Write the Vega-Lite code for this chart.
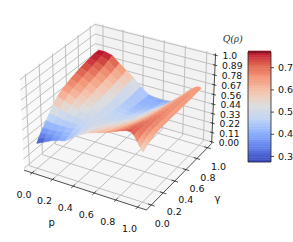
{"$schema":"https://vega.github.io/schema/vega-lite/v6.json","width":293,"height":242,"padding":0,"autosize":{"type":"none"},"background":"white","config":{"view":{"stroke":null}},
"datasets":{"frame":[
{"kind":"left","p":[-0.08,-0.08,-0.08,-0.08],"g":[-0.08,1.08,1.08,-0.08],"z":[-0.02,-0.02,1.02,1.02],"k":[0,1,2,3]},
{"kind":"back","p":[-0.08,1.08,1.08,-0.08],"g":[1.08,1.08,1.08,1.08],"z":[-0.02,-0.02,1.02,1.02],"k":[0,1,2,3]},
{"kind":"floor","p":[-0.08,1.08,1.08,-0.08],"g":[-0.08,-0.08,1.08,1.08],"z":[-0.02,-0.02,-0.02,-0.02],"k":[0,1,2,3]},
{"kind":"grid","id":"p0","p":[0,0,0],"g":[-0.08,1.08,1.08],"z":[-0.02,-0.02,1.02],"k":[0,1,2]},
{"kind":"grid","id":"p2","p":[0.2,0.2,0.2],"g":[-0.08,1.08,1.08],"z":[-0.02,-0.02,1.02],"k":[0,1,2]},
{"kind":"grid","id":"p4","p":[0.4,0.4,0.4],"g":[-0.08,1.08,1.08],"z":[-0.02,-0.02,1.02],"k":[0,1,2]},
{"kind":"grid","id":"p6","p":[0.6,0.6,0.6],"g":[-0.08,1.08,1.08],"z":[-0.02,-0.02,1.02],"k":[0,1,2]},
{"kind":"grid","id":"p8","p":[0.8,0.8,0.8],"g":[-0.08,1.08,1.08],"z":[-0.02,-0.02,1.02],"k":[0,1,2]},
{"kind":"grid","id":"p10","p":[1,1,1],"g":[-0.08,1.08,1.08],"z":[-0.02,-0.02,1.02],"k":[0,1,2]},
{"kind":"grid","id":"g0","p":[1.08,-0.08,-0.08],"g":[0,0,0],"z":[-0.02,-0.02,1.02],"k":[0,1,2]},
{"kind":"grid","id":"g2","p":[1.08,-0.08,-0.08],"g":[0.2,0.2,0.2],"z":[-0.02,-0.02,1.02],"k":[0,1,2]},
{"kind":"grid","id":"g4","p":[1.08,-0.08,-0.08],"g":[0.4,0.4,0.4],"z":[-0.02,-0.02,1.02],"k":[0,1,2]},
{"kind":"grid","id":"g6","p":[1.08,-0.08,-0.08],"g":[0.6,0.6,0.6],"z":[-0.02,-0.02,1.02],"k":[0,1,2]},
{"kind":"grid","id":"g8","p":[1.08,-0.08,-0.08],"g":[0.8,0.8,0.8],"z":[-0.02,-0.02,1.02],"k":[0,1,2]},
{"kind":"grid","id":"g10","p":[1.08,-0.08,-0.08],"g":[1,1,1],"z":[-0.02,-0.02,1.02],"k":[0,1,2]},
{"kind":"grid","id":"z0","p":[-0.08,-0.08,1.08],"g":[-0.08,1.08,1.08],"z":[0,0,0],"k":[0,1,2]},
{"kind":"grid","id":"z1","p":[-0.08,-0.08,1.08],"g":[-0.08,1.08,1.08],"z":[0.111,0.111,0.111],"k":[0,1,2]},
{"kind":"grid","id":"z2","p":[-0.08,-0.08,1.08],"g":[-0.08,1.08,1.08],"z":[0.222,0.222,0.222],"k":[0,1,2]},
{"kind":"grid","id":"z3","p":[-0.08,-0.08,1.08],"g":[-0.08,1.08,1.08],"z":[0.333,0.333,0.333],"k":[0,1,2]},
{"kind":"grid","id":"z4","p":[-0.08,-0.08,1.08],"g":[-0.08,1.08,1.08],"z":[0.444,0.444,0.444],"k":[0,1,2]},
{"kind":"grid","id":"z5","p":[-0.08,-0.08,1.08],"g":[-0.08,1.08,1.08],"z":[0.556,0.556,0.556],"k":[0,1,2]},
{"kind":"grid","id":"z6","p":[-0.08,-0.08,1.08],"g":[-0.08,1.08,1.08],"z":[0.667,0.667,0.667],"k":[0,1,2]},
{"kind":"grid","id":"z7","p":[-0.08,-0.08,1.08],"g":[-0.08,1.08,1.08],"z":[0.778,0.778,0.778],"k":[0,1,2]},
{"kind":"grid","id":"z8","p":[-0.08,-0.08,1.08],"g":[-0.08,1.08,1.08],"z":[0.889,0.889,0.889],"k":[0,1,2]},
{"kind":"grid","id":"z9","p":[-0.08,-0.08,1.08],"g":[-0.08,1.08,1.08],"z":[1,1,1],"k":[0,1,2]},
{"kind":"ink","id":"ap","p":[-0.08,1.08],"g":[-0.08,-0.08],"z":[-0.02,-0.02],"k":[0,1]},
{"kind":"ink","id":"ag","p":[1.08,1.08],"g":[-0.08,1.08],"z":[-0.02,-0.02],"k":[0,1]},
{"kind":"ink","id":"az","p":[1.08,1.08],"g":[1.08,1.08],"z":[-0.02,1.02],"k":[0,1]},
{"kind":"ink","id":"tp0","p":[0,0],"g":[-0.11,-0.05],"z":[-0.02,-0.02],"k":[0,1]},
{"kind":"ink","id":"tp2","p":[0.2,0.2],"g":[-0.11,-0.05],"z":[-0.02,-0.02],"k":[0,1]},
{"kind":"ink","id":"tp4","p":[0.4,0.4],"g":[-0.11,-0.05],"z":[-0.02,-0.02],"k":[0,1]},
{"kind":"ink","id":"tp6","p":[0.6,0.6],"g":[-0.11,-0.05],"z":[-0.02,-0.02],"k":[0,1]},
{"kind":"ink","id":"tp8","p":[0.8,0.8],"g":[-0.11,-0.05],"z":[-0.02,-0.02],"k":[0,1]},
{"kind":"ink","id":"tp10","p":[1,1],"g":[-0.11,-0.05],"z":[-0.02,-0.02],"k":[0,1]},
{"kind":"ink","id":"tg0","p":[1.05,1.11],"g":[0,0],"z":[-0.02,-0.02],"k":[0,1]},
{"kind":"ink","id":"tg2","p":[1.05,1.11],"g":[0.2,0.2],"z":[-0.02,-0.02],"k":[0,1]},
{"kind":"ink","id":"tg4","p":[1.05,1.11],"g":[0.4,0.4],"z":[-0.02,-0.02],"k":[0,1]},
{"kind":"ink","id":"tg6","p":[1.05,1.11],"g":[0.6,0.6],"z":[-0.02,-0.02],"k":[0,1]},
{"kind":"ink","id":"tg8","p":[1.05,1.11],"g":[0.8,0.8],"z":[-0.02,-0.02],"k":[0,1]},
{"kind":"ink","id":"tg10","p":[1.05,1.11],"g":[1,1],"z":[-0.02,-0.02],"k":[0,1]},
{"kind":"ink","id":"tz0","p":[1.06,1.1],"g":[1.08,1.08],"z":[0,0],"k":[0,1]},
{"kind":"ink","id":"tz1","p":[1.06,1.1],"g":[1.08,1.08],"z":[0.111,0.111],"k":[0,1]},
{"kind":"ink","id":"tz2","p":[1.06,1.1],"g":[1.08,1.08],"z":[0.222,0.222],"k":[0,1]},
{"kind":"ink","id":"tz3","p":[1.06,1.1],"g":[1.08,1.08],"z":[0.333,0.333],"k":[0,1]},
{"kind":"ink","id":"tz4","p":[1.06,1.1],"g":[1.08,1.08],"z":[0.444,0.444],"k":[0,1]},
{"kind":"ink","id":"tz5","p":[1.06,1.1],"g":[1.08,1.08],"z":[0.556,0.556],"k":[0,1]},
{"kind":"ink","id":"tz6","p":[1.06,1.1],"g":[1.08,1.08],"z":[0.667,0.667],"k":[0,1]},
{"kind":"ink","id":"tz7","p":[1.06,1.1],"g":[1.08,1.08],"z":[0.778,0.778],"k":[0,1]},
{"kind":"ink","id":"tz8","p":[1.06,1.1],"g":[1.08,1.08],"z":[0.889,0.889],"k":[0,1]},
{"kind":"ink","id":"tz9","p":[1.06,1.1],"g":[1.08,1.08],"z":[1,1],"k":[0,1]},
{"kind":"pl","text":"0.0","p":[0],"g":[-0.08],"z":[-0.02],"k":[0]},
{"kind":"pl","text":"0.2","p":[0.2],"g":[-0.08],"z":[-0.02],"k":[0]},
{"kind":"pl","text":"0.4","p":[0.4],"g":[-0.08],"z":[-0.02],"k":[0]},
{"kind":"pl","text":"0.6","p":[0.6],"g":[-0.08],"z":[-0.02],"k":[0]},
{"kind":"pl","text":"0.8","p":[0.8],"g":[-0.08],"z":[-0.02],"k":[0]},
{"kind":"pl","text":"1.0","p":[1],"g":[-0.08],"z":[-0.02],"k":[0]},
{"kind":"gl","text":"0.0","p":[1.08],"g":[0],"z":[-0.02],"k":[0]},
{"kind":"gl","text":"0.2","p":[1.08],"g":[0.2],"z":[-0.02],"k":[0]},
{"kind":"gl","text":"0.4","p":[1.08],"g":[0.4],"z":[-0.02],"k":[0]},
{"kind":"gl","text":"0.6","p":[1.08],"g":[0.6],"z":[-0.02],"k":[0]},
{"kind":"gl","text":"0.8","p":[1.08],"g":[0.8],"z":[-0.02],"k":[0]},
{"kind":"gl","text":"1.0","p":[1.08],"g":[1],"z":[-0.02],"k":[0]},
{"kind":"zl","text":"0.00","p":[1.08],"g":[1.08],"z":[0],"k":[0]},
{"kind":"zl","text":"0.11","p":[1.08],"g":[1.08],"z":[0.111],"k":[0]},
{"kind":"zl","text":"0.22","p":[1.08],"g":[1.08],"z":[0.222],"k":[0]},
{"kind":"zl","text":"0.33","p":[1.08],"g":[1.08],"z":[0.333],"k":[0]},
{"kind":"zl","text":"0.44","p":[1.08],"g":[1.08],"z":[0.444],"k":[0]},
{"kind":"zl","text":"0.56","p":[1.08],"g":[1.08],"z":[0.556],"k":[0]},
{"kind":"zl","text":"0.67","p":[1.08],"g":[1.08],"z":[0.667],"k":[0]},
{"kind":"zl","text":"0.78","p":[1.08],"g":[1.08],"z":[0.778],"k":[0]},
{"kind":"zl","text":"0.89","p":[1.08],"g":[1.08],"z":[0.889],"k":[0]},
{"kind":"zl","text":"1.0","p":[1.08],"g":[1.08],"z":[1],"k":[0]},
{"kind":"pt","text":"p","p":[0.5],"g":[-0.08],"z":[-0.02],"k":[0]},
{"kind":"gt","text":"γ","p":[1.08],"g":[0.5],"z":[-0.02],"k":[0]},
{"kind":"qt","text":"Q(ρ)","p":[1.08],"g":[1.08],"z":[1.02],"k":[0]}
],
"surface":[
{"g":1,"p":0,"q":0.77},{"g":1,"p":0.07,"q":0.77},{"g":1,"p":0.14,"q":0.75},{"g":1,"p":0.21,"q":0.68},{"g":1,"p":0.28,"q":0.62},{"g":1,"p":0.35,"q":0.56},{"g":1,"p":0.42,"q":0.48},{"g":1,"p":0.5,"q":0.41},{"g":1,"p":0.58,"q":0.39},{"g":1,"p":0.66,"q":0.39},{"g":1,"p":0.74,"q":0.41},{"g":1,"p":0.8,"q":0.47},{"g":1,"p":0.85,"q":0.54},{"g":1,"p":0.89,"q":0.59},{"g":1,"p":0.92,"q":0.62},{"g":1,"p":0.95,"q":0.645},{"g":1,"p":0.975,"q":0.655},{"g":1,"p":1,"q":0.65},
{"g":0.93,"p":0,"q":0.765},{"g":0.93,"p":0.07,"q":0.755},{"g":0.93,"p":0.14,"q":0.725},{"g":0.93,"p":0.21,"q":0.66},{"g":0.93,"p":0.28,"q":0.6},{"g":0.93,"p":0.35,"q":0.545},{"g":0.93,"p":0.42,"q":0.47},{"g":0.93,"p":0.5,"q":0.41},{"g":0.93,"p":0.58,"q":0.395},{"g":0.93,"p":0.66,"q":0.4},{"g":0.93,"p":0.74,"q":0.43},{"g":0.93,"p":0.8,"q":0.49},{"g":0.93,"p":0.85,"q":0.555},{"g":0.93,"p":0.89,"q":0.6},{"g":0.93,"p":0.92,"q":0.63},{"g":0.93,"p":0.95,"q":0.65},{"g":0.93,"p":0.975,"q":0.655},{"g":0.93,"p":1,"q":0.645},
{"g":0.85,"p":0,"q":0.755},{"g":0.85,"p":0.07,"q":0.74},{"g":0.85,"p":0.14,"q":0.7},{"g":0.85,"p":0.21,"q":0.64},{"g":0.85,"p":0.28,"q":0.585},{"g":0.85,"p":0.35,"q":0.53},{"g":0.85,"p":0.42,"q":0.465},{"g":0.85,"p":0.5,"q":0.415},{"g":0.85,"p":0.58,"q":0.4},{"g":0.85,"p":0.66,"q":0.415},{"g":0.85,"p":0.74,"q":0.45},{"g":0.85,"p":0.8,"q":0.51},{"g":0.85,"p":0.85,"q":0.57},{"g":0.85,"p":0.89,"q":0.61},{"g":0.85,"p":0.92,"q":0.64},{"g":0.85,"p":0.95,"q":0.655},{"g":0.85,"p":0.975,"q":0.655},{"g":0.85,"p":1,"q":0.64},
{"g":0.78,"p":0,"q":0.745},{"g":0.78,"p":0.07,"q":0.72},{"g":0.78,"p":0.14,"q":0.68},{"g":0.78,"p":0.21,"q":0.625},{"g":0.78,"p":0.28,"q":0.57},{"g":0.78,"p":0.35,"q":0.52},{"g":0.78,"p":0.42,"q":0.46},{"g":0.78,"p":0.5,"q":0.42},{"g":0.78,"p":0.58,"q":0.41},{"g":0.78,"p":0.66,"q":0.43},{"g":0.78,"p":0.74,"q":0.475},{"g":0.78,"p":0.8,"q":0.53},{"g":0.78,"p":0.85,"q":0.585},{"g":0.78,"p":0.89,"q":0.62},{"g":0.78,"p":0.92,"q":0.645},{"g":0.78,"p":0.95,"q":0.66},{"g":0.78,"p":0.975,"q":0.655},{"g":0.78,"p":1,"q":0.637},
{"g":0.7,"p":0,"q":0.73},{"g":0.7,"p":0.07,"q":0.7},{"g":0.7,"p":0.14,"q":0.66},{"g":0.7,"p":0.21,"q":0.61},{"g":0.7,"p":0.28,"q":0.56},{"g":0.7,"p":0.35,"q":0.51},{"g":0.7,"p":0.42,"q":0.46},{"g":0.7,"p":0.5,"q":0.43},{"g":0.7,"p":0.58,"q":0.425},{"g":0.7,"p":0.66,"q":0.45},{"g":0.7,"p":0.74,"q":0.5},{"g":0.7,"p":0.8,"q":0.55},{"g":0.7,"p":0.85,"q":0.6},{"g":0.7,"p":0.89,"q":0.63},{"g":0.7,"p":0.92,"q":0.65},{"g":0.7,"p":0.95,"q":0.66},{"g":0.7,"p":0.975,"q":0.655},{"g":0.7,"p":1,"q":0.635},
{"g":0.62,"p":0,"q":0.71},{"g":0.62,"p":0.07,"q":0.68},{"g":0.62,"p":0.14,"q":0.64},{"g":0.62,"p":0.21,"q":0.595},{"g":0.62,"p":0.28,"q":0.55},{"g":0.62,"p":0.35,"q":0.505},{"g":0.62,"p":0.42,"q":0.465},{"g":0.62,"p":0.5,"q":0.44},{"g":0.62,"p":0.58,"q":0.44},{"g":0.62,"p":0.66,"q":0.47},{"g":0.62,"p":0.74,"q":0.52},{"g":0.62,"p":0.8,"q":0.565},{"g":0.62,"p":0.85,"q":0.61},{"g":0.62,"p":0.89,"q":0.64},{"g":0.62,"p":0.92,"q":0.655},{"g":0.62,"p":0.95,"q":0.665},{"g":0.62,"p":0.975,"q":0.655},{"g":0.62,"p":1,"q":0.632},
{"g":0.54,"p":0,"q":0.69},{"g":0.54,"p":0.07,"q":0.66},{"g":0.54,"p":0.14,"q":0.62},{"g":0.54,"p":0.21,"q":0.58},{"g":0.54,"p":0.28,"q":0.54},{"g":0.54,"p":0.35,"q":0.5},{"g":0.54,"p":0.42,"q":0.47},{"g":0.54,"p":0.5,"q":0.455},{"g":0.54,"p":0.58,"q":0.46},{"g":0.54,"p":0.66,"q":0.49},{"g":0.54,"p":0.74,"q":0.54},{"g":0.54,"p":0.8,"q":0.58},{"g":0.54,"p":0.85,"q":0.62},{"g":0.54,"p":0.89,"q":0.645},{"g":0.54,"p":0.92,"q":0.66},{"g":0.54,"p":0.95,"q":0.665},{"g":0.54,"p":0.975,"q":0.655},{"g":0.54,"p":1,"q":0.63},
{"g":0.47,"p":0,"q":0.67},{"g":0.47,"p":0.07,"q":0.64},{"g":0.47,"p":0.14,"q":0.6},{"g":0.47,"p":0.21,"q":0.565},{"g":0.47,"p":0.28,"q":0.53},{"g":0.47,"p":0.35,"q":0.5},{"g":0.47,"p":0.42,"q":0.475},{"g":0.47,"p":0.5,"q":0.465},{"g":0.47,"p":0.58,"q":0.47},{"g":0.47,"p":0.66,"q":0.505},{"g":0.47,"p":0.74,"q":0.55},{"g":0.47,"p":0.8,"q":0.59},{"g":0.47,"p":0.85,"q":0.63},{"g":0.47,"p":0.89,"q":0.655},{"g":0.47,"p":0.92,"q":0.67},{"g":0.47,"p":0.95,"q":0.67},{"g":0.47,"p":0.975,"q":0.655},{"g":0.47,"p":1,"q":0.63},
{"g":0.4,"p":0,"q":0.645},{"g":0.4,"p":0.07,"q":0.615},{"g":0.4,"p":0.14,"q":0.58},{"g":0.4,"p":0.21,"q":0.55},{"g":0.4,"p":0.28,"q":0.52},{"g":0.4,"p":0.35,"q":0.5},{"g":0.4,"p":0.42,"q":0.48},{"g":0.4,"p":0.5,"q":0.475},{"g":0.4,"p":0.58,"q":0.49},{"g":0.4,"p":0.66,"q":0.52},{"g":0.4,"p":0.74,"q":0.565},{"g":0.4,"p":0.8,"q":0.605},{"g":0.4,"p":0.85,"q":0.64},{"g":0.4,"p":0.89,"q":0.665},{"g":0.4,"p":0.92,"q":0.675},{"g":0.4,"p":0.95,"q":0.675},{"g":0.4,"p":0.975,"q":0.655},{"g":0.4,"p":1,"q":0.625},
{"g":0.33,"p":0,"q":0.61},{"g":0.33,"p":0.07,"q":0.58},{"g":0.33,"p":0.14,"q":0.55},{"g":0.33,"p":0.21,"q":0.525},{"g":0.33,"p":0.28,"q":0.505},{"g":0.33,"p":0.35,"q":0.49},{"g":0.33,"p":0.42,"q":0.485},{"g":0.33,"p":0.5,"q":0.49},{"g":0.33,"p":0.58,"q":0.51},{"g":0.33,"p":0.66,"q":0.54},{"g":0.33,"p":0.74,"q":0.58},{"g":0.33,"p":0.8,"q":0.62},{"g":0.33,"p":0.85,"q":0.65},{"g":0.33,"p":0.89,"q":0.675},{"g":0.33,"p":0.92,"q":0.685},{"g":0.33,"p":0.95,"q":0.68},{"g":0.33,"p":0.975,"q":0.655},{"g":0.33,"p":1,"q":0.625},
{"g":0.26,"p":0,"q":0.56},{"g":0.26,"p":0.07,"q":0.53},{"g":0.26,"p":0.14,"q":0.505},{"g":0.26,"p":0.21,"q":0.49},{"g":0.26,"p":0.28,"q":0.48},{"g":0.26,"p":0.35,"q":0.485},{"g":0.26,"p":0.42,"q":0.49},{"g":0.26,"p":0.5,"q":0.505},{"g":0.26,"p":0.58,"q":0.53},{"g":0.26,"p":0.66,"q":0.56},{"g":0.26,"p":0.74,"q":0.6},{"g":0.26,"p":0.8,"q":0.635},{"g":0.26,"p":0.85,"q":0.665},{"g":0.26,"p":0.89,"q":0.685},{"g":0.26,"p":0.92,"q":0.69},{"g":0.26,"p":0.95,"q":0.68},{"g":0.26,"p":0.975,"q":0.655},{"g":0.26,"p":1,"q":0.62},
{"g":0.2,"p":0,"q":0.49},{"g":0.2,"p":0.07,"q":0.48},{"g":0.2,"p":0.14,"q":0.465},{"g":0.2,"p":0.21,"q":0.46},{"g":0.2,"p":0.28,"q":0.46},{"g":0.2,"p":0.35,"q":0.475},{"g":0.2,"p":0.42,"q":0.495},{"g":0.2,"p":0.5,"q":0.52},{"g":0.2,"p":0.58,"q":0.55},{"g":0.2,"p":0.66,"q":0.575},{"g":0.2,"p":0.74,"q":0.615},{"g":0.2,"p":0.8,"q":0.65},{"g":0.2,"p":0.85,"q":0.68},{"g":0.2,"p":0.89,"q":0.695},{"g":0.2,"p":0.92,"q":0.695},{"g":0.2,"p":0.95,"q":0.68},{"g":0.2,"p":0.975,"q":0.65},{"g":0.2,"p":1,"q":0.615},
{"g":0.15,"p":0,"q":0.44},{"g":0.15,"p":0.07,"q":0.43},{"g":0.15,"p":0.14,"q":0.43},{"g":0.15,"p":0.21,"q":0.43},{"g":0.15,"p":0.28,"q":0.445},{"g":0.15,"p":0.35,"q":0.47},{"g":0.15,"p":0.42,"q":0.5},{"g":0.15,"p":0.5,"q":0.53},{"g":0.15,"p":0.58,"q":0.56},{"g":0.15,"p":0.66,"q":0.59},{"g":0.15,"p":0.74,"q":0.63},{"g":0.15,"p":0.8,"q":0.66},{"g":0.15,"p":0.85,"q":0.69},{"g":0.15,"p":0.89,"q":0.7},{"g":0.15,"p":0.92,"q":0.7},{"g":0.15,"p":0.95,"q":0.675},{"g":0.15,"p":0.975,"q":0.64},{"g":0.15,"p":1,"q":0.6},
{"g":0.1,"p":0,"q":0.39},{"g":0.1,"p":0.07,"q":0.39},{"g":0.1,"p":0.14,"q":0.395},{"g":0.1,"p":0.21,"q":0.41},{"g":0.1,"p":0.28,"q":0.43},{"g":0.1,"p":0.35,"q":0.465},{"g":0.1,"p":0.42,"q":0.5},{"g":0.1,"p":0.5,"q":0.54},{"g":0.1,"p":0.58,"q":0.57},{"g":0.1,"p":0.66,"q":0.6},{"g":0.1,"p":0.74,"q":0.64},{"g":0.1,"p":0.8,"q":0.67},{"g":0.1,"p":0.85,"q":0.7},{"g":0.1,"p":0.89,"q":0.71},{"g":0.1,"p":0.92,"q":0.7},{"g":0.1,"p":0.95,"q":0.67},{"g":0.1,"p":0.975,"q":0.625},{"g":0.1,"p":1,"q":0.585},
{"g":0.06,"p":0,"q":0.35},{"g":0.06,"p":0.07,"q":0.36},{"g":0.06,"p":0.14,"q":0.375},{"g":0.06,"p":0.21,"q":0.395},{"g":0.06,"p":0.28,"q":0.42},{"g":0.06,"p":0.35,"q":0.46},{"g":0.06,"p":0.42,"q":0.51},{"g":0.06,"p":0.5,"q":0.55},{"g":0.06,"p":0.58,"q":0.58},{"g":0.06,"p":0.66,"q":0.61},{"g":0.06,"p":0.74,"q":0.65},{"g":0.06,"p":0.8,"q":0.68},{"g":0.06,"p":0.85,"q":0.705},{"g":0.06,"p":0.89,"q":0.715},{"g":0.06,"p":0.92,"q":0.705},{"g":0.06,"p":0.95,"q":0.66},{"g":0.06,"p":0.975,"q":0.61},{"g":0.06,"p":1,"q":0.57},
{"g":0.03,"p":0,"q":0.31},{"g":0.03,"p":0.07,"q":0.335},{"g":0.03,"p":0.14,"q":0.365},{"g":0.03,"p":0.21,"q":0.39},{"g":0.03,"p":0.28,"q":0.41},{"g":0.03,"p":0.35,"q":0.46},{"g":0.03,"p":0.42,"q":0.51},{"g":0.03,"p":0.5,"q":0.56},{"g":0.03,"p":0.58,"q":0.59},{"g":0.03,"p":0.66,"q":0.62},{"g":0.03,"p":0.74,"q":0.66},{"g":0.03,"p":0.8,"q":0.69},{"g":0.03,"p":0.85,"q":0.71},{"g":0.03,"p":0.89,"q":0.72},{"g":0.03,"p":0.92,"q":0.7},{"g":0.03,"p":0.95,"q":0.645},{"g":0.03,"p":0.975,"q":0.595},{"g":0.03,"p":1,"q":0.555},
{"g":0,"p":0,"q":0.27},{"g":0,"p":0.07,"q":0.31},{"g":0,"p":0.14,"q":0.35},{"g":0,"p":0.21,"q":0.38},{"g":0,"p":0.28,"q":0.4},{"g":0,"p":0.35,"q":0.46},{"g":0,"p":0.42,"q":0.52},{"g":0,"p":0.5,"q":0.57},{"g":0,"p":0.58,"q":0.6},{"g":0,"p":0.66,"q":0.63},{"g":0,"p":0.74,"q":0.67},{"g":0,"p":0.8,"q":0.7},{"g":0,"p":0.85,"q":0.72},{"g":0,"p":0.89,"q":0.72},{"g":0,"p":0.92,"q":0.69},{"g":0,"p":0.95,"q":0.63},{"g":0,"p":0.975,"q":0.58},{"g":0,"p":1,"q":0.54}
],
"bar":[{"v":0.275},{"v":0.285},{"v":0.295},{"v":0.305},{"v":0.315},{"v":0.325},{"v":0.335},{"v":0.345},{"v":0.355},{"v":0.365},{"v":0.375},{"v":0.385},{"v":0.395},{"v":0.405},{"v":0.415},{"v":0.425},{"v":0.435},{"v":0.445},{"v":0.455},{"v":0.465},{"v":0.475},{"v":0.485},{"v":0.495},{"v":0.505},{"v":0.515},{"v":0.525},{"v":0.535},{"v":0.545},{"v":0.555},{"v":0.565},{"v":0.575},{"v":0.585},{"v":0.595},{"v":0.605},{"v":0.615},{"v":0.625},{"v":0.635},{"v":0.645},{"v":0.655},{"v":0.665},{"v":0.675},{"v":0.685},{"v":0.695},{"v":0.705},{"v":0.715},{"v":0.725},{"v":0.735},{"v":0.745},{"v":0.755},{"v":0.765}],
"bartick":[{"v":0.3,"text":"0.3"},{"v":0.4,"text":"0.4"},{"v":0.5,"text":"0.5"},{"v":0.6,"text":"0.6"},{"v":0.7,"text":"0.7"}]
},
"encoding":{
"x":{"field":"sx","type":"quantitative","scale":{"domain":[0,293],"range":[0,293]},"axis":null},
"y":{"field":"sy","type":"quantitative","scale":{"domain":[0,242],"range":[0,242]},"axis":null}
},
"layer":[
{"data":{"name":"frame"},
"transform":[
{"flatten":["p","g","z","k"],"as":["cp","cg","cz","k"]},
{"calculate":"0.9829*datum.cp-0.4914","as":"mx"},{"calculate":"0.9829*datum.cg-0.4914","as":"my"},{"calculate":"0.8227*datum.cz-0.4114","as":"mz"},
{"calculate":"10/(10-(0.433*datum.mx-0.75*datum.my+0.5*datum.mz))","as":"sc"},
{"calculate":"119.5+123*datum.sc*(0.866*datum.mx+0.5*datum.my)","as":"sx"},
{"calculate":"112-123*datum.sc*(-0.25*datum.mx+0.433*datum.my+0.866*datum.mz)","as":"sy"}],
"layer":[
{"transform":[{"filter":"datum.kind=='left'"}],"mark":{"type":"line","fill":"#f9f9f9","strokeWidth":0},"encoding":{"order":{"field":"k"}}},
{"transform":[{"filter":"datum.kind=='back'"}],"mark":{"type":"line","fill":"#f2f2f2","strokeWidth":0},"encoding":{"order":{"field":"k"}}},
{"transform":[{"filter":"datum.kind=='floor'"}],"mark":{"type":"line","fill":"#f6f6f6","strokeWidth":0},"encoding":{"order":{"field":"k"}}},
{"transform":[{"filter":"datum.kind=='grid'"}],"mark":{"type":"line","color":"#b9b9b9","strokeWidth":0.9},"encoding":{"order":{"field":"k"},"detail":{"field":"id"}}},
{"transform":[{"filter":"datum.kind=='ink'"}],"mark":{"type":"line","color":"#222222","strokeWidth":0.8},"encoding":{"order":{"field":"k"},"detail":{"field":"id"}}},
{"transform":[{"filter":"datum.kind=='pl'"}],"mark":{"type":"text","font":"DejaVu Sans","fontSize":9.5,"dx":-8,"dy":22,"color":"#111111"},"encoding":{"text":{"field":"text"}}},
{"transform":[{"filter":"datum.kind=='gl'"}],"mark":{"type":"text","font":"DejaVu Sans","fontSize":9.5,"dx":11,"dy":19,"color":"#111111"},"encoding":{"text":{"field":"text"}}},
{"transform":[{"filter":"datum.kind=='zl'"}],"mark":{"type":"text","font":"DejaVu Sans","fontSize":9.2,"dx":7,"dy":1,"align":"left","color":"#111111"},"encoding":{"text":{"field":"text"}}},
{"transform":[{"filter":"datum.kind=='pt'"}],"mark":{"type":"text","font":"DejaVu Sans","fontSize":10,"dx":-32,"dy":33,"color":"#111111"},"encoding":{"text":{"field":"text"}}},
{"transform":[{"filter":"datum.kind=='gt'"}],"mark":{"type":"text","font":"DejaVu Sans","fontSize":10,"dx":37,"dy":24,"color":"#111111"},"encoding":{"text":{"field":"text"}}},
{"transform":[{"filter":"datum.kind=='qt'"}],"mark":{"type":"text","font":"Liberation Serif","fontStyle":"italic","fontSize":10.5,"dx":17,"dy":-14,"color":"#333333"},"encoding":{"text":{"field":"text"}}}
]},
{"data":{"name":"surface"},
"transform":[
{"window":[{"op":"lead","field":"q","as":"qr"},{"op":"lead","field":"p","as":"pr"}],"groupby":["g"],"sort":[{"field":"p","order":"ascending"}]},
{"window":[{"op":"lead","field":"q","as":"qu"},{"op":"lead","field":"g","as":"gu"},{"op":"lead","field":"qr","as":"qd"}],"groupby":["p"],"sort":[{"field":"g","order":"ascending"}]},
{"filter":"datum.qr!=null&&datum.qu!=null&&datum.qd!=null"},
{"calculate":"(datum.q+datum.qr+datum.qu+datum.qd)/4","as":"c"},
{"calculate":"'c'+datum.g+'_'+datum.p","as":"cell"},
{"calculate":"[0,1,2,3]","as":"k"},
{"flatten":["k"]},
{"calculate":"datum.k==1||datum.k==2?datum.pr:datum.p","as":"cp"},
{"calculate":"datum.k>=2?datum.gu:datum.g","as":"cg"},
{"calculate":"datum.k==0?datum.q:datum.k==1?datum.qr:datum.k==2?datum.qd:datum.qu","as":"cz"},
{"calculate":"0.9829*datum.cp-0.4914","as":"mx"},{"calculate":"0.9829*datum.cg-0.4914","as":"my"},{"calculate":"0.8227*datum.cz-0.4114","as":"mz"},
{"calculate":"10/(10-(0.433*datum.mx-0.75*datum.my+0.5*datum.mz))","as":"sc"},
{"calculate":"119.5+123*datum.sc*(0.866*datum.mx+0.5*datum.my)","as":"sx"},
{"calculate":"112-123*datum.sc*(-0.25*datum.mx+0.433*datum.my+0.866*datum.mz)","as":"sy"}],
"mark":{"type":"line","strokeWidth":0.5},
"encoding":{"order":{"field":"k"},"detail":{"field":"cell"},
"fill":{"field":"c","type":"quantitative","scale":{"domain":[0.275,0.3375,0.4,0.4625,0.525,0.5875,0.65,0.7125,0.775],"range":["#3b4cc0","#6282ea","#8db0fe","#c0d4f5","#dddddd","#f5c4ad","#f4987a","#de604d","#b40426"],"interpolate":"rgb"},"legend":null},
"stroke":{"field":"c","type":"quantitative","scale":{"domain":[0.275,0.3375,0.4,0.4625,0.525,0.5875,0.65,0.7125,0.775],"range":["#3b4cc0","#6282ea","#8db0fe","#c0d4f5","#dddddd","#f5c4ad","#f4987a","#de604d","#b40426"],"interpolate":"rgb"},"legend":null}}},
{"data":{"name":"bar"},
"transform":[{"calculate":"156.5-(datum.v-0.3)*222","as":"sy"},{"calculate":"datum.sy-2.6","as":"sy2"}],
"mark":{"type":"rect","strokeWidth":0},
"encoding":{"x":{"value":248},"x2":{"value":271},"y":{"field":"sy","type":"quantitative"},"y2":{"field":"sy2"},
"fill":{"field":"v","type":"quantitative","legend":null}}},
{"data":{"values":[{"v":0.3}]},
"transform":[{"calculate":"162","as":"sy"},{"calculate":"52","as":"sy2"}],
"mark":{"type":"rect","fillOpacity":0,"stroke":"#222222","strokeWidth":0.8},
"encoding":{"x":{"value":248},"x2":{"value":271},"y":{"field":"sy","type":"quantitative"},"y2":{"field":"sy2"}}},
{"data":{"name":"bartick"},
"transform":[{"calculate":"156.5-(datum.v-0.3)*222","as":"sy"}],
"layer":[
{"mark":{"type":"rule","color":"#222222","strokeWidth":0.8},"encoding":{"x":{"value":271},"x2":{"value":274},"y":{"field":"sy","type":"quantitative"}}},
{"mark":{"type":"text","font":"DejaVu Sans","fontSize":9.5,"align":"left","color":"#111111"},"encoding":{"x":{"value":278},"y":{"field":"sy","type":"quantitative"},"text":{"field":"text"}}}
]}
]}
